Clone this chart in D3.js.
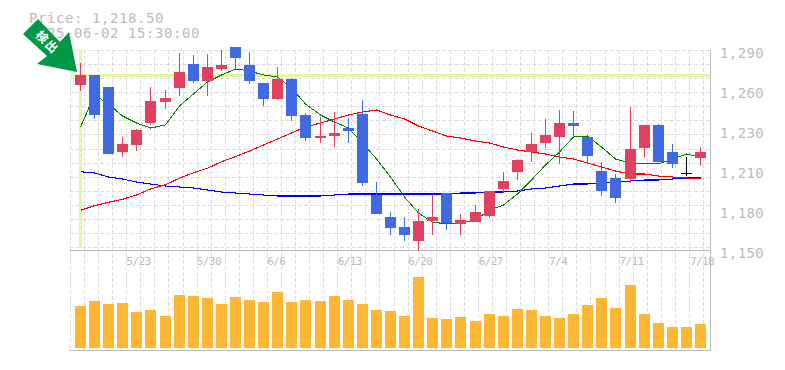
<!DOCTYPE html>
<html>
<head>
<meta charset="utf-8">
<script src="https://cdn.jsdelivr.net/npm/d3@7"></script>
<style>
  body { margin: 0; background: #fff; }
  text { font-family: 'DejaVu Sans Mono', monospace; fill: #bbb; }
</style>
</head>
<body>
<div id="chart"></div>
<script>
// candle data
var open = [1265.5,1272.5,1264.1,1218.6,1223.5,1238.9,1253.6,1263.4,1280.2,1268.3,1276.7,1292.1,1279.5,1266.9,1255.7,1269.7,1244.5,1228.4,1229.8,1235.4,1245.2,1188.5,1173.1,1166.1,1156.3,1170.3,1189.9,1168.2,1169.6,1173.8,1192.7,1204.6,1218.6,1224.9,1229.1,1238.9,1229.1,1205.3,1200.4,1199.7,1221.4,1237.5,1218.6,1204.1,1214.4];
var close = [1272.5,1244.5,1217.2,1224.2,1234,1254.3,1256.4,1274.6,1268.3,1278.1,1279.5,1284.4,1268.3,1255.7,1269.7,1243.8,1228.4,1229.8,1231.9,1233.3,1196.9,1175.2,1165.4,1160.5,1170.3,1173.1,1168.9,1171,1176.6,1191.3,1198.3,1213,1224.2,1230.5,1238.9,1236.8,1215.8,1191.3,1186.4,1220.7,1237.5,1211.6,1210.2,1204.1,1218.6];
var high = [1280.9,1272.5,1264.1,1229.1,1234.7,1264.1,1262,1287.9,1286.5,1287.2,1290,1292.1,1288.6,1266.9,1278.1,1270.4,1245.9,1243.1,1246.6,1242.4,1255,1197.6,1176.6,1173.1,1178.7,1188.5,1189.9,1175.2,1181.5,1191.3,1204.6,1213.7,1231.9,1241.7,1248,1247.3,1229.1,1211.6,1203.2,1250.1,1237.5,1238.2,1224.2,1215.1,1222.1];
var low = [1261.3,1241.7,1217.2,1215.1,1219.3,1237.5,1248.7,1257.8,1266.9,1257.8,1275.3,1276.7,1266.2,1250.8,1255,1240.3,1226.3,1224.9,1222.1,1224.9,1194.8,1175.2,1160.5,1156.3,1149.3,1160.5,1164,1160.5,1169.6,1172.4,1189.9,1199,1211.6,1221.4,1210.2,1229.1,1210.2,1187.8,1182.9,1196.9,1215.1,1211.6,1207.4,1201.8,1208.8];

// moving averages
var maShort = [1236.1,1258.5,1252.2,1243.8,1238.9,1235.4,1237.5,1250.8,1259.2,1267.6,1272.5,1276.7,1275.3,1272.5,1271.1,1263.4,1252.2,1244.5,1239.6,1235.4,1224.9,1213.7,1201.1,1187.1,1175.9,1169.6,1168.2,1168.9,1171,1178,1181.5,1189.2,1199,1209.5,1218.6,1229.1,1229.8,1222.1,1213.7,1210.9,1210.9,1210.2,1213.7,1217.2,1215.1];
var maMid = [1177.8,1181,1183.4,1185.5,1188.5,1192.7,1195.7,1200.2,1204.1,1207.2,1211.8,1215.3,1219.3,1223.5,1227.7,1231.9,1236.1,1238.9,1241.7,1244.5,1246.6,1248,1244.5,1241.7,1236.8,1233.3,1229.8,1228.4,1226.3,1224.9,1222.1,1220,1218.6,1217.2,1215.1,1213.7,1210.9,1208.1,1205.3,1203.2,1203.2,1201.8,1201.1,1200.4,1199.7];
var maLong = [1204.8,1203.9,1201.1,1199.7,1197.6,1196.2,1194.8,1194.1,1193.4,1192,1190.6,1189.9,1189.2,1188.5,1187.8,1187.8,1187.8,1187.8,1188.5,1189.2,1189.2,1189.2,1189.2,1189.2,1189.2,1189.2,1189.2,1189.9,1189.9,1190.6,1190.6,1191.3,1192.7,1193.4,1194.8,1196.2,1196.2,1196.9,1197.6,1198.3,1199,1199,1199.7,1200.4,1201.1];

var volume = [4200,4700,4400,4500,3600,3800,3200,5300,5200,5000,4400,5100,4800,4600,5600,4600,4800,4700,5200,4800,4400,3800,3700,3200,7100,3000,2900,3100,2700,3400,3200,3900,3800,3200,3000,3400,4300,5000,4000,6300,3400,2500,2100,2100,2400];

// ticks sit every 28 yen, the labels round them to the nearest ten
var priceTicks = [1150, 1178, 1206, 1234, 1262, 1290];
var dateTicks = [[4, '5/23'], [9, '5/30'], [14, '6/6'], [19, '6/13'], [24, '6/20'], [29, '6/27'], [34, '7/4'], [39, '7/11'], [44, '7/18']];
var headerLines = ['Price: 1,218.50', '2025-06-02 15:30:00'];
var signalLabel = '検出';
var signalIndex = 0;

var red = '#e2405f', blue = '#4169e1', orange = '#ffb733', gridColor = '#ddd', frameColor = '#bbb', markColor = '#e4f5a6';
var left = 70, right = 710, top_ = 50, bottom = 250, volBottom = 350;

var svg = d3.select('#chart').append('svg').attr('width', 785).attr('height', 370).style('display', 'block');

var idx = d3.range(open.length);
var x = d3.scalePoint().domain(idx).range([80.5, 700.5]);
var y = d3.scaleLinear().domain([1150, 1290]).range([bottom, top_]);
var yVol = d3.scaleLinear().domain([0, 10000]).range([348, 248]);
var cx = function (i) { return Math.floor(x(i)) + 0.5; };

// the dashed grid is a 14.07px square mesh that doesn't line up with the price labels
var gridX = d3.scaleLinear().domain([0, 45]).range([left, 703]);
var gridY = d3.scaleLinear().domain([0, 14]).range([top_, 247]);

var grid = svg.append('g').attr('stroke', gridColor).attr('stroke-dasharray', '4,2').attr('shape-rendering', 'crispEdges');
grid.selectAll('.v').data(d3.range(0, 46)).enter().append('line')
  .attr('x1', function (d) { return Math.round(gridX(d)) + 0.5; })
  .attr('x2', function (d) { return Math.round(gridX(d)) + 0.5; })
  .attr('y1', top_).attr('y2', volBottom);
grid.selectAll('.h').data(d3.range(0, 15)).enter().append('line')
  .attr('x1', left).attr('x2', right)
  .attr('y1', function (d) { return Math.round(gridY(d)) + 0.5; })
  .attr('y2', function (d) { return Math.round(gridY(d)) + 0.5; });

// signal cross
var mark = svg.append('g').attr('stroke', markColor).attr('stroke-width', 3).attr('shape-rendering', 'crispEdges');
mark.append('line').attr('x1', left).attr('x2', right)
  .attr('y1', Math.round(y(close[signalIndex])) + 0.5).attr('y2', Math.round(y(close[signalIndex])) + 0.5);
mark.append('line').attr('x1', cx(signalIndex)).attr('x2', cx(signalIndex)).attr('y1', top_).attr('y2', 248);

// frame
var frame = svg.append('g').attr('stroke', frameColor).attr('fill', 'none').attr('shape-rendering', 'crispEdges');
frame.append('path').attr('d', 'M' + right + '.5,' + top_ + 'V' + volBottom + '.5H' + left);
frame.append('line').attr('x1', left).attr('x2', right).attr('y1', bottom + 0.5).attr('y2', bottom + 0.5);

// moving averages go behind the candles
var line = d3.line().x(function (d, i) { return cx(i); }).y(function (d) { return y(d); });
[[maLong, '#0000ff', 1.1], [maMid, '#ff0000', 1.1], [maShort, '#008000', 1]].forEach(function (s) {
  svg.append('path').datum(s[0]).attr('d', line).attr('fill', 'none').attr('stroke', s[1])
    .attr('stroke-width', s[2]).attr('shape-rendering', 'crispEdges');
});

function candleColor(i) {
  if (open[i] === close[i]) return '#000';
  return close[i] > open[i] ? red : blue;
}

var candles = svg.append('g').attr('shape-rendering', 'crispEdges');
candles.selectAll('line').data(idx).enter().append('line')
  .attr('x1', cx).attr('x2', cx)
  .attr('y1', function (i) { return Math.round(y(high[i])); })
  .attr('y2', function (i) { return Math.round(y(low[i])); })
  .attr('stroke', candleColor);
candles.selectAll('rect').data(idx).enter().append('rect')
  .attr('x', function (i) { return Math.floor(x(i)) - 5; })
  .attr('width', 11)
  .attr('y', function (i) { return Math.round(y(Math.max(open[i], close[i]))); })
  .attr('height', function (i) { return Math.max(1, Math.round(Math.abs(y(open[i]) - y(close[i])))); })
  .attr('fill', candleColor);

// volume
svg.append('g').attr('shape-rendering', 'crispEdges').selectAll('rect').data(idx).enter().append('rect')
  .attr('x', function (i) { return Math.floor(x(i)) - 5; })
  .attr('width', 11)
  .attr('y', function (i) { return yVol(volume[i]); })
  .attr('height', function (i) { return yVol(0) - yVol(volume[i]); })
  .attr('fill', orange);

// price labels
var axisR = svg.append('g').attr('transform', 'translate(' + right + ',0)')
  .call(d3.axisRight(y).tickValues(priceTicks)
    .tickFormat(function (d) { return d3.format(',')(Math.round(d / 10) * 10); })
    .tickSize(0).tickPadding(10));
axisR.select('.domain').remove();
axisR.selectAll('text').attr('dy', '0.5em').style('font-size', '14px').style('letter-spacing', '0.4px');

// date labels
var dateMap = new Map(dateTicks);
var axisB = svg.append('g').attr('transform', 'translate(0,' + bottom + ')')
  .call(d3.axisBottom(x).tickValues(dateTicks.map(function (d) { return d[0]; }))
    .tickFormat(function (d) { return dateMap.get(d); }).tickSize(0).tickPadding(7));
axisB.select('.domain').remove();
axisB.selectAll('text').attr('text-anchor', 'start').attr('dx', -11).style('font-size', '11px').style('letter-spacing', '-0.6px');

// header
svg.selectAll('.head').data(headerLines).enter().append('text')
  .attr('class', 'head').attr('x', 29)
  .attr('y', function (d, i) { return 23 + i * 15; })
  .style('font-size', '14px').style('letter-spacing', '0.57px')
  .text(function (d) { return d; });

// signal arrow
var arrowPts = [[38, 19], [23, 34], [47, 56], [37, 64], [77, 72], [69, 32], [60, 42]];
svg.append('polygon').attr('points', arrowPts.join(' ')).attr('fill', '#009944');
svg.append('text').attr('transform', 'translate(47.5,42) rotate(45)')
  .attr('text-anchor', 'middle').attr('dy', '0.38em')
  .style('font-family', "'Noto Sans CJK JP'").style('font-weight', 'bold').style('font-size', '12px')
  .style('letter-spacing', '1.5px').style('fill', '#fff')
  .text(signalLabel);
</script>
</body>
</html>
